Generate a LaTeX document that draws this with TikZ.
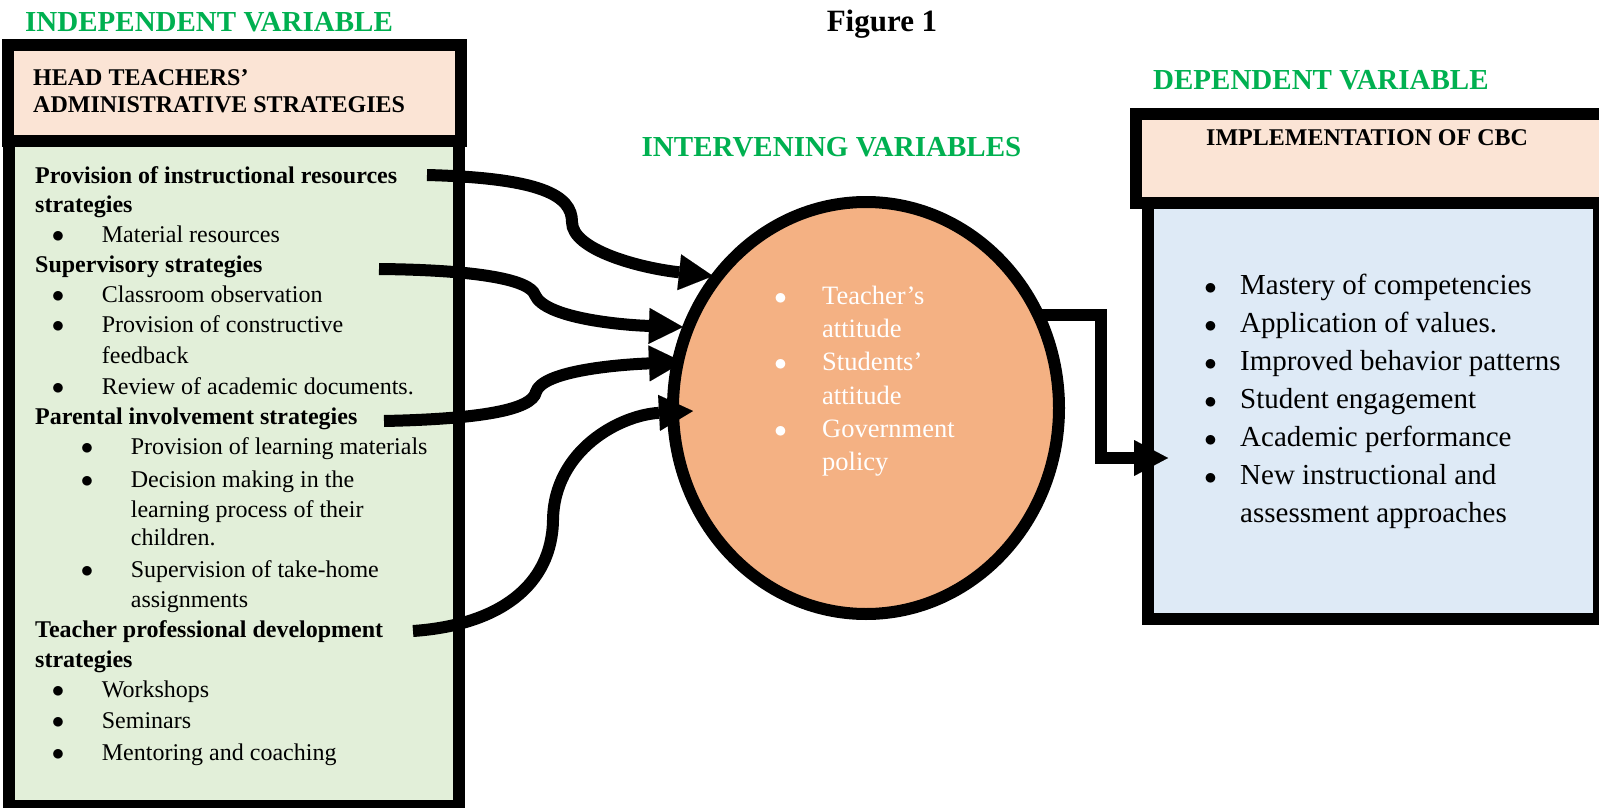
\documentclass[tikz,border=0pt]{standalone}
\usepackage{fontspec}
\setmainfont{Liberation Serif}
\usetikzlibrary{arrows.meta,shapes.geometric}
\definecolor{titlegreen}{HTML}{00B050}
\definecolor{hdrpink}{HTML}{FBE4D5}
\definecolor{bodygreen}{HTML}{E2EFD9}
\definecolor{bodyblue}{HTML}{DEEAF6}
\definecolor{circfill}{HTML}{F4B183}
\newcommand{\bulA}{\llap{$\bullet$\hspace{37.5pt}}}
\newcommand{\bulR}{\llap{$\bullet$\hspace{23.5pt}}}
\newcommand{\bulC}{\llap{\textcolor{white}{$\bullet$}\hspace{35.5pt}}}
\begin{document}
\begin{tikzpicture}[x=1pt,y=-1pt,
  vartitle/.style={font=\fontsize{29}{34}\selectfont\bfseries, text=titlegreen, anchor=base west, inner sep=0pt},
  hdrtext/.style={font=\fontsize{24}{28}\selectfont\bfseries, anchor=base west, inner sep=0pt},
  txt/.style={font=\fontsize{24}{30}\selectfont, anchor=base west, inner sep=0pt},
  btxt/.style={font=\fontsize{24}{30}\selectfont\bfseries, anchor=base west, inner sep=0pt},
  rtxt/.style={font=\fontsize{29}{36}\selectfont, anchor=base west, inner sep=0pt},
  ctxt/.style={font=\fontsize{26.5}{33}\selectfont, text=white, anchor=base west, inner sep=0pt},
  conn/.style={line width=12pt, -{Triangle[length=34pt,width=36pt,line width=0.01pt]}},
  frameline/.style={draw=black, line width=12pt},
]
\useasboundingbox (0,0) rectangle (1599,808);
\clip (0,0) rectangle (1599,808);

% titles
\node[vartitle] (tind) at (25,32) {INDEPENDENT VARIABLE};
\node[font=\fontsize{31}{36}\selectfont\bfseries, anchor=base, inner sep=0pt] (tfig) at (882,31.7) {Figure 1};
\node[vartitle] (tint) at (641.5,156) {INTERVENING VARIABLES};
\node[vartitle] (tdep) at (1153,89) {DEPENDENT VARIABLE};

% left box
\draw[frameline, fill=hdrpink] (8,45.5) rectangle (460.5,141);
\draw[frameline, fill=bodygreen] (9,141) rectangle (459,806);
\node[hdrtext] (lh1) at (33,85) {HEAD TEACHERS’};
\node[hdrtext] (lh2) at (33,113) {ADMINISTRATIVE STRATEGIES};

\foreach \n/\y/\t in {1/183/{Provision of instructional resources}, 2/212/{strategies}, 4/272/{Supervisory strategies}, 9/424/{Parental involvement strategies}, 16/637/{Teacher professional development}, 17/667/{strategies}}
  \node[btxt] (L\n) at (35,\y) {\t};
\foreach \n/\y/\t in {3/242/{Material resources}, 5/302/{Classroom observation}, 6/332/{Provision of constructive}, 8/394/{Review of academic documents.}, 18/697/{Workshops}, 19/728/{Seminars}, 20/760/{Mentoring and coaching}}
  \node[txt] (L\n) at (101.7,\y) {\bulA\t};
\node[txt] (L7) at (101.7,363) {feedback};
\foreach \n/\y/\t in {10/454/{Provision of learning materials}, 11/487/{Decision making in the}, 14/577/{Supervision of take-home}}
  \node[txt] (L\n) at (130.7,\y) {\bulA\t};
\foreach \n/\y/\t in {12/517/{learning process of their}, 13/545/{children.}, 15/607/{assignments}}
  \node[txt] (L\n) at (130.7,\y) {\t};

% right box
\draw[frameline, fill=hdrpink] (1136,113.5) rectangle (1605,203);
\draw[frameline, fill=bodyblue] (1148,203) rectangle (1599,619);
\node[hdrtext] (rh) at (1206,145) {IMPLEMENTATION OF CBC};
\foreach \n/\y/\t in {1/294/{Mastery of competencies}, 2/332/{Application of values.}, 3/370/{Improved behavior patterns}, 4/408/{Student engagement}, 5/446/{Academic performance}, 6/484/{New instructional and}}
  \node[rtxt] (R\n) at (1240,\y) {\bulR\t};
\node[rtxt] (R7) at (1240,522) {assessment approaches};

% circle
\node[ellipse, draw=black, line width=12pt, fill=circfill, minimum width=386pt, minimum height=412pt, inner sep=0pt] (circ) at (866,408) {};
\foreach \n/\y/\t in {1/304/{Teacher’s}, 3/370.6/{Students’}, 5/437/{Government}}
  \node[ctxt] (C\n) at (822,\y) {\bulC\t};
\foreach \n/\y/\t in {2/337.3/{attitude}, 4/404/{attitude}, 6/470.6/{policy}}
  \node[ctxt] (C\n) at (822,\y) {\t};

% connector anchor points
\coordinate (s1) at (427,175);
\coordinate (s2) at (379,269);
\coordinate (s3) at (384,421);
\coordinate (s4) at (413,631);
\coordinate (e1) at (713,276);
\coordinate (e2) at (683,327);
\coordinate (e3) at (683,362);
\coordinate (e4) at (693,411);
\coordinate (o1) at (1038,315);
\coordinate (o2) at (1168,458);

\draw[conn] (s1) .. controls (540,178) and (572,195) .. (572,222) .. controls (572,250) and (640,268) .. (e1);
\draw[conn] (s2) .. controls (480,270) and (530,280) .. (535,295) .. controls (545,318) and (620,325) .. (e2);
\draw[conn] (s3) .. controls (480,419) and (532,410) .. (536,392) .. controls (542,372) and (610,365) .. (e3);
\draw[conn] (s4) .. controls (500,625) and (552,585) .. (553,520) .. controls (554,450) and (620,415) .. (e4);
\draw[conn, line join=miter] (o1) -- (1101,315) -- (1101,458) -- (o2);
\end{tikzpicture}
\end{document}
